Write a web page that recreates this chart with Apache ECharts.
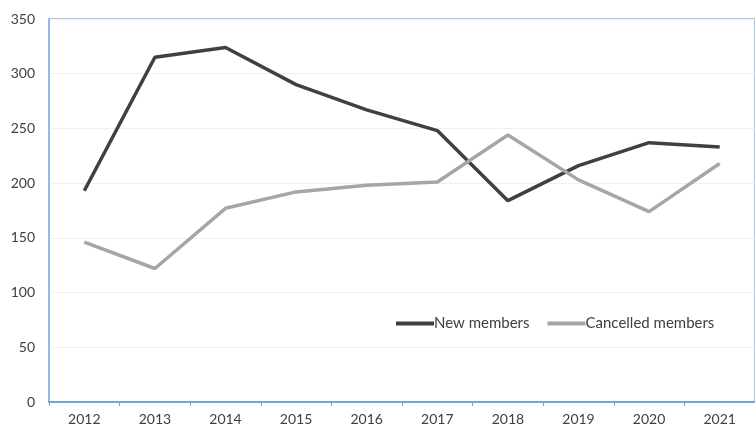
<!DOCTYPE html>
<html>
<head>
<meta charset="utf-8">
<script src="https://cdn.jsdelivr.net/npm/echarts@6/dist/echarts.min.js"></script>
<style>
  html, body { margin: 0; padding: 0; background: #fff; }
  #chart { width: 755px; height: 429px; }
</style>
</head>
<body>
<div id="chart"></div>
<script>
// data
const years = ['2012', '2013', '2014', '2015', '2016', '2017', '2018', '2019', '2020', '2021']
const newMembers = [193, 315, 324, 290, 267, 248, 184, 216, 237, 233]
const cancelledMembers = [146, 122, 177, 192, 198, 201, 244, 203, 174, 218]

const chart = echarts.init(document.getElementById('chart'))

const labelFont = {
  fontFamily: 'Lato, "Open Sans", sans-serif',
  fontSize: 13,
  color: '#404040'
}

const option = {
  animation: false,
  backgroundColor: '#fff',
  grid: {
    left: 49,
    top: 19,
    right: -2,
    bottom: 27,
    show: true,
    borderColor: '#8db4e2',
    borderWidth: 1.5
  },
  legend: {
    left: 391,
    top: 311,
    itemGap: 18,
    itemWidth: 38,
    itemHeight: 4,
    icon: 'rect',
    textStyle: { ...labelFont, fontSize: 15, padding: [0, 0, 0, -5] },
    data: ['New members', 'Cancelled members']
  },
  xAxis: {
    type: 'category',
    data: years,
    boundaryGap: true,
    axisLine: { lineStyle: { color: '#6fa3dc', width: 2 } },
    axisTick: { show: true, length: 4, lineStyle: { color: '#9a9a9a' } },
    axisLabel: { ...labelFont, fontSize: 14, margin: 10 },
    splitLine: { show: false }
  },
  yAxis: {
    type: 'value',
    min: 0,
    max: 350,
    interval: 50,
    axisLine: { show: true, lineStyle: { color: '#8db4e2', width: 1.5 } },
    axisTick: { show: false },
    axisLabel: { ...labelFont, fontSize: 14, margin: 14 },
    splitLine: { show: true, lineStyle: { color: '#f0f0f0', width: 1 } }
  },
  series: [
    {
      name: 'New members',
      type: 'line',
      data: newMembers,
      showSymbol: false,
      symbol: 'none',
      lineStyle: { color: '#404040', width: 3.5 },
      itemStyle: { color: '#404040' }
    },
    {
      name: 'Cancelled members',
      type: 'line',
      data: cancelledMembers,
      showSymbol: false,
      symbol: 'none',
      lineStyle: { color: '#a6a6a6', width: 3.5 },
      itemStyle: { color: '#a6a6a6' }
    }
  ]
}

chart.setOption(option)
</script>
</body>
</html>
